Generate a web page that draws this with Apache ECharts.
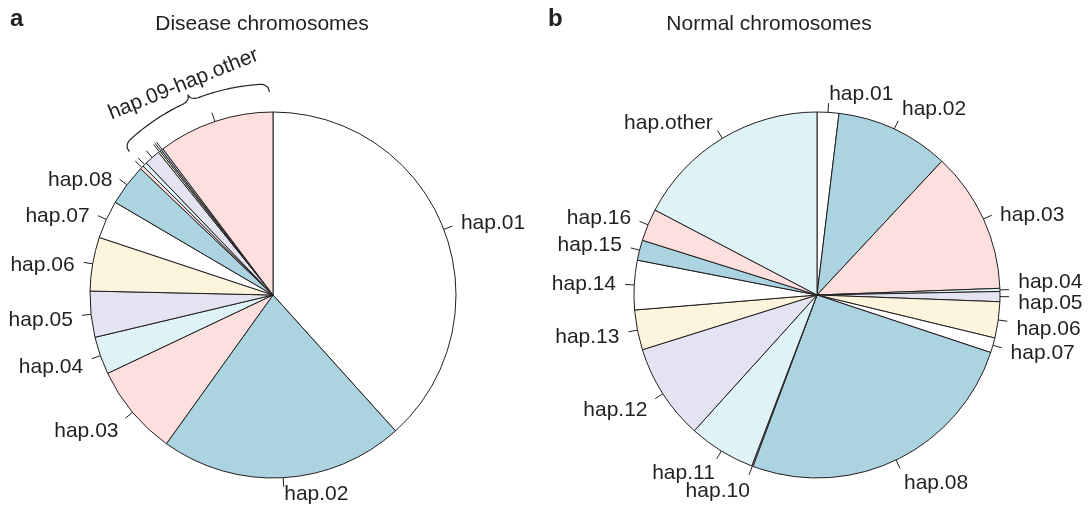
<!DOCTYPE html>
<html><head><meta charset="utf-8">
<script src="https://cdn.jsdelivr.net/npm/echarts@6/dist/echarts.min.js"></script>
<style>html,body{margin:0;padding:0;background:#fff}#c{width:1089px;height:513px}</style>
</head><body><div id="c"></div>
<script>
// ---- data (percent of chromosomes) ----
const diseaseLabels = ['hap.01','hap.02','hap.03','hap.04','hap.05','hap.06','hap.07','hap.08',
  'hap.09','hap.10','hap.11','hap.12','hap.13','hap.14','hap.other'];
const diseaseValues = [38.33, 21.58, 8.06, 3.33, 4.06, 4.75, 3.36, 3.67,
  0.31, 0.39, 1.42, 0.17, 0.14, 0.17, 10.28];
const diseaseGrouped = ['hap.09','hap.10','hap.11','hap.12','hap.13','hap.14','hap.other'];
const diseaseGroupLabel = 'hap.09-hap.other';

const normalLabels = ['hap.01','hap.02','hap.03','hap.04','hap.05','hap.06','hap.07','hap.08',
  'hap.10','hap.11','hap.12','hap.13','hap.14','hap.15','hap.16','hap.other'];
const normalValues = [1.92, 10.03, 12.47, 0.28, 0.89, 3.19, 1.31, 25.61,
  0.11, 5.89, 8.47, 3.53, 4.36, 1.78, 2.86, 17.31];

const panelLetters = ['a', 'b'];
const panelTitles = ['Disease chromosomes', 'Normal chromosomes'];

// ---- styling ----
const INK = '#231f20';
const FONT = 'Liberation Sans, Arial, Helvetica, sans-serif';
const PALETTE = ['#ffffff', '#acd3e0', '#fde0de', '#dff2f6', '#e4e3f2', '#fcf4dc']; // R pie defaults
const FS = 21;
const geoA = { cx: 273, cy: 295, r: 183, titleX: 262, letterX: 10 };
const geoB = { cx: 817, cy: 295, r: 183, titleX: 769, letterX: 548 };
// small manual label nudges [dx, dy] in px, as in the original figure
const nudgeA = { 'hap.03': [0, 7], 'hap.04': [0, 5], 'hap.05': [0, 4], 'hap.06': [0, 4],
  'hap.07': [0, 4], 'hap.08': [0, 6], 'hap.02': [0, -2] };
const nudgeB = { 'hap.02': [0, -3], 'hap.03': [0, 4], 'hap.04': [0, -7], 'hap.05': [0, 6.5],
  'hap.06': [0, 7], 'hap.07': [0, 3], 'hap.08': [0, 7], 'hap.10': [4, 8],
  'hap.11': [3, 7], 'hap.12': [0, 7], 'hap.13': [0, 4] };

function pieSeries(names, values, geo, hidden, nudge) {
  const common = {
    type: 'pie', center: [geo.cx, geo.cy], radius: geo.r, startAngle: 90, clockwise: true,
    avoidLabelOverlap: false, animation: false, silent: true, emphasis: { disabled: true }
  };
  const sectors = Object.assign({}, common, {
    labelLayout: { hideOverlap: false },
    itemStyle: { borderColor: INK, borderWidth: 1 },
    label: { show: true, position: 'outside', formatter: ' ', fontSize: 2, color: 'rgba(0,0,0,0)' },
    labelLine: { show: true, length: geo.r * 0.05, length2: 0, smooth: false,
      lineStyle: { color: INK, width: 1 } },
    data: names.map((n, i) => ({ name: n, value: values[i], itemStyle: { color: PALETTE[i % 6] } }))
  });
  const labels = Object.assign({}, common, {
    labelLayout: function (p) {
      const d = nudge[names[p.dataIndex]] || [0, 0];
      return { hideOverlap: false, dx: d[0], dy: d[1] };
    },
    itemStyle: { color: 'rgba(0,0,0,0)', borderWidth: 0 },
    label: { show: true, position: 'outside', fontSize: FS, fontFamily: FONT, color: INK,
      distanceToLabelLine: 0, overflow: 'none',
      formatter: p => hidden.indexOf(p.name) >= 0 ? '' : p.name },
    labelLine: { show: false, length: geo.r * 0.1, length2: 0 },
    data: names.map((n, i) => ({ name: n, value: values[i] }))
  });
  return [sectors, labels];
}

function polar(geo, deg, r) {
  const a = deg * Math.PI / 180;
  return [geo.cx + r * Math.sin(a), geo.cy - r * Math.cos(a)];
}

// brace over the grouped slices of panel a, derived from the data
const total = diseaseValues.reduce((s, v) => s + v, 0);
let cum = 0, groupStart = null;
diseaseLabels.forEach((n, i) => {
  if (groupStart === null && diseaseGrouped.indexOf(n) >= 0) groupStart = cum / total * 360;
  cum += diseaseValues[i];
});
const th1 = groupStart + 1.3, th2 = 359;
const R0 = 211, hook = 8, cusp = 6, w = 9;
const L = (th2 - th1) * Math.PI / 180 * R0;
const bracePts = [];
const N = 160;
for (let k = 0; k <= N; k++) {
  const s = L * k / N;
  let r = R0;
  const e = Math.min(s, L - s);
  if (e < w) { const t = 1 - e / w; r -= hook * (1 - Math.sqrt(1 - t * t)); }
  const dm = Math.abs(s - L / 2);
  if (dm < w) { const t = 1 - dm / w; r += cusp * (1 - Math.sqrt(1 - t * t)); }
  bracePts.push(polar(geoA, th1 + (th2 - th1) * k / N, r));
}
const thm = (th1 + th2) / 2;
const braceTextPos = polar(geoA, thm, 229);

const graphics = [];
[geoA, geoB].forEach((g, i) => {
  graphics.push({ type: 'text', x: g.letterX, y: 19, silent: true,
    style: { text: panelLetters[i], font: 'bold 24px ' + FONT, fill: INK, verticalAlign: 'middle', align: 'left' } });
  graphics.push({ type: 'text', x: g.titleX, y: 24, silent: true,
    style: { text: panelTitles[i], font: FS + 'px ' + FONT, fill: INK, verticalAlign: 'middle', align: 'center' } });
});
graphics.push({ type: 'polyline', silent: true, shape: { points: bracePts },
  style: { stroke: INK, lineWidth: 1.2, fill: null } });
graphics.push({ type: 'text', x: braceTextPos[0], y: braceTextPos[1], rotation: (360 - thm - 1) * Math.PI / 180,
  silent: true, style: { text: diseaseGroupLabel, font: FS + 'px ' + FONT, fill: INK, align: 'center', verticalAlign: 'middle' } });

const chart = echarts.init(document.getElementById('c'), null, { renderer: 'canvas' });
chart.setOption({
  backgroundColor: '#ffffff',
  animation: false,
  series: [
    ...pieSeries(diseaseLabels, diseaseValues, geoA, diseaseGrouped, nudgeA),
    ...pieSeries(normalLabels, normalValues, geoB, [], nudgeB)
  ],
  graphic: graphics
});
</script></body></html>
